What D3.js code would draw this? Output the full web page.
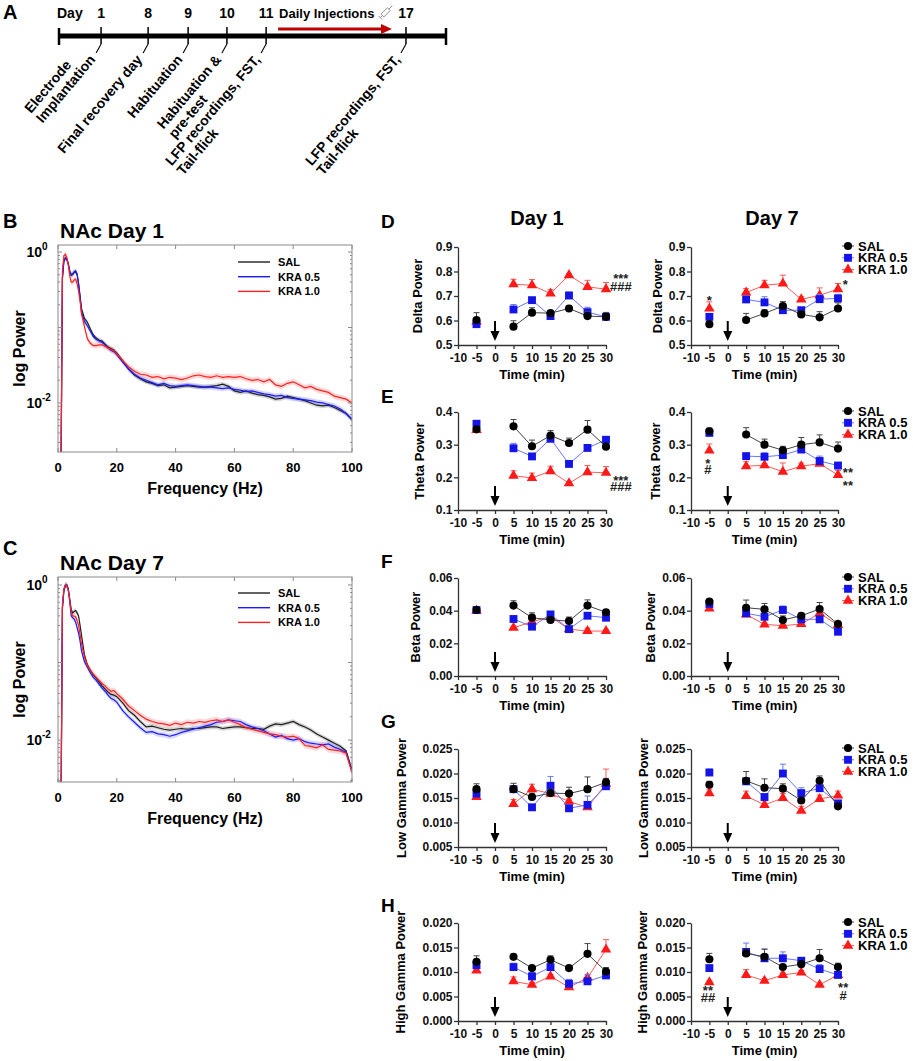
<!DOCTYPE html>
<html><head><meta charset="utf-8">
<script src="https://cdn.jsdelivr.net/npm/d3@7"></script>
<style>
body{margin:0;background:#fff}
svg text{font-family:"Liberation Sans",Arial,Helvetica,sans-serif;font-weight:bold}
</style>
</head><body>
<svg id="c" width="913" height="1061"></svg>
<script>
// ================= DATA =================
// Panel A timeline
const timelineDays = ["1","8","9","10","11","17"];
const timelineSlots = [0, 1.14, 2.11, 3.05, 4, 7.39];
const timelineLabels = [["Electrode","Implantation"],["Final recovery day"],["Habituation"],["Habituation &","pre-test"],["LFP recordings, FST,","Tail-flick"],["LFP recordings, FST,","Tail-flick"]];

// Panels B, C : power spectra (log10 of power)
const freqHz = [1,1.5,2,2.5,3,3.5,4,4.5,5,5.5,6,6.5,7,7.5,8,9,10,11,12,13,14,15,16,17,18,19,20,22,24,26,28,30,32,34,36,38,40,42,44,46,48,50,52,54,56,58,60,62,64,66,68,70,72,74,76,78,80,82,84,86,88,90,92,94,96,98,100];
const groups = ["SAL","KRA 0.5","KRA 1.0"];
const nacDay1_SAL = [-3.0,-0.35,-0.12,-0.08,-0.10,-0.16,-0.26,-0.31,-0.30,-0.27,-0.26,-0.30,-0.42,-0.58,-0.75,-0.88,-0.93,-1.02,-1.10,-1.14,-1.17,-1.18,-1.22,-1.26,-1.28,-1.30,-1.34,-1.44,-1.55,-1.63,-1.68,-1.72,-1.74,-1.77,-1.76,-1.80,-1.79,-1.78,-1.77,-1.78,-1.79,-1.79,-1.78,-1.77,-1.75,-1.78,-1.84,-1.86,-1.84,-1.87,-1.89,-1.90,-1.92,-1.95,-1.94,-1.91,-1.93,-1.95,-1.97,-2.00,-2.03,-2.04,-2.03,-2.06,-2.10,-2.14,-2.22];
const nacDay1_K05 = [-3.0,-0.35,-0.12,-0.08,-0.09,-0.15,-0.25,-0.30,-0.29,-0.26,-0.25,-0.29,-0.42,-0.60,-0.80,-0.92,-0.98,-1.05,-1.12,-1.16,-1.18,-1.20,-1.23,-1.27,-1.30,-1.32,-1.36,-1.46,-1.55,-1.62,-1.67,-1.70,-1.73,-1.76,-1.74,-1.77,-1.78,-1.77,-1.76,-1.77,-1.78,-1.79,-1.79,-1.80,-1.81,-1.80,-1.82,-1.83,-1.85,-1.84,-1.86,-1.88,-1.89,-1.91,-1.90,-1.93,-1.94,-1.95,-1.96,-1.97,-1.99,-2.00,-2.02,-2.04,-2.08,-2.14,-2.22];
const nacDay1_K10 = [-3.0,-0.25,-0.05,-0.03,-0.07,-0.17,-0.32,-0.40,-0.40,-0.37,-0.36,-0.42,-0.52,-0.65,-0.82,-0.99,-1.15,-1.21,-1.24,-1.24,-1.23,-1.23,-1.25,-1.27,-1.29,-1.31,-1.35,-1.44,-1.52,-1.58,-1.62,-1.63,-1.66,-1.65,-1.68,-1.66,-1.67,-1.69,-1.67,-1.64,-1.63,-1.65,-1.66,-1.64,-1.66,-1.65,-1.66,-1.65,-1.68,-1.70,-1.69,-1.72,-1.69,-1.76,-1.78,-1.74,-1.72,-1.76,-1.80,-1.78,-1.82,-1.84,-1.86,-1.91,-1.93,-1.95,-2.00];
const nacDay7_SAL = [-3.0,-0.30,-0.08,-0.01,0.00,-0.05,-0.18,-0.32,-0.36,-0.34,-0.33,-0.36,-0.40,-0.52,-0.65,-0.90,-1.03,-1.10,-1.16,-1.20,-1.25,-1.30,-1.34,-1.38,-1.41,-1.42,-1.44,-1.52,-1.62,-1.68,-1.76,-1.83,-1.82,-1.84,-1.86,-1.87,-1.86,-1.85,-1.86,-1.85,-1.85,-1.84,-1.83,-1.83,-1.85,-1.84,-1.83,-1.83,-1.84,-1.85,-1.85,-1.86,-1.82,-1.79,-1.80,-1.78,-1.76,-1.80,-1.83,-1.87,-1.92,-1.96,-2.00,-2.04,-2.08,-2.14,-2.38];
const nacDay7_K05 = [-3.0,-0.30,-0.06,0.00,0.00,-0.06,-0.22,-0.40,-0.42,-0.44,-0.48,-0.55,-0.62,-0.72,-0.85,-0.99,-1.06,-1.13,-1.19,-1.23,-1.28,-1.33,-1.37,-1.42,-1.46,-1.48,-1.51,-1.62,-1.70,-1.77,-1.84,-1.90,-1.89,-1.92,-1.93,-1.95,-1.93,-1.90,-1.88,-1.86,-1.84,-1.82,-1.80,-1.77,-1.76,-1.74,-1.75,-1.76,-1.80,-1.83,-1.85,-1.88,-1.92,-1.96,-1.94,-1.98,-2.00,-1.98,-2.02,-2.04,-2.05,-2.06,-2.05,-2.09,-2.12,-2.16,-2.40];
const nacDay7_K10 = [-3.0,-0.25,-0.05,0.00,-0.01,-0.07,-0.20,-0.35,-0.40,-0.40,-0.41,-0.46,-0.52,-0.64,-0.76,-0.93,-1.04,-1.10,-1.15,-1.19,-1.23,-1.27,-1.30,-1.34,-1.37,-1.36,-1.40,-1.47,-1.56,-1.62,-1.68,-1.73,-1.76,-1.78,-1.79,-1.81,-1.78,-1.80,-1.77,-1.78,-1.76,-1.77,-1.75,-1.74,-1.76,-1.74,-1.77,-1.80,-1.84,-1.86,-1.88,-1.90,-1.92,-1.93,-1.95,-1.96,-1.95,-1.98,-2.07,-2.08,-2.10,-2.06,-2.12,-2.13,-2.14,-2.17,-2.42];
const spectrumSemLog = [0.03, 0.035, 0.04];

// Panels D-H : band power over time
const timeMin = [-5,5,10,15,20,25,30];
const timeTicks = [-10,-5,0,5,10,15,20,25,30];

const delta1_SAL = [0.602,0.575,0.632,0.630,0.649,0.618,0.615];
const delta1_K05 = [0.585,0.645,0.683,0.618,0.702,0.634,0.615];
const delta1_K10 = [0.595,0.748,0.744,0.710,0.785,0.737,0.728];
const delta1_SAL_sem = [0.030,0.024,0.020,0.010,0.010,0.018,0.018];
const delta1_K05_sem = [0.010,0.020,0.010,0.010,0.014,0.020,0.010];
const delta1_K10_sem = [0.010,0.020,0.023,0.016,0.005,0.027,0.027];
const delta7_SAL = [0.585,0.602,0.629,0.659,0.625,0.613,0.649];
const delta7_K05 = [0.615,0.686,0.674,0.642,0.642,0.687,0.690];
const delta7_K10 = [0.649,0.714,0.744,0.751,0.686,0.703,0.728];
const delta7_SAL_sem = [0.005,0.027,0.015,0.018,0.015,0.023,0.023];
const delta7_K05_sem = [0.012,0.011,0.023,0.011,0.011,0.019,0.017];
const delta7_K10_sem = [0.027,0.016,0.020,0.034,0.011,0.030,0.023];

const theta1_SAL = [0.347,0.356,0.295,0.328,0.305,0.346,0.294];
const theta1_K05 = [0.364,0.289,0.264,0.318,0.241,0.290,0.315];
const theta1_K10 = [0.345,0.205,0.198,0.219,0.182,0.216,0.214];
const theta1_SAL_sem = [0.005,0.021,0.019,0.015,0.015,0.028,0.008];
const theta1_K05_sem = [0.005,0.015,0.005,0.005,0.005,0.005,0.005];
const theta1_K10_sem = [0.005,0.015,0.015,0.015,0.004,0.020,0.019];
const theta7_SAL = [0.341,0.331,0.300,0.283,0.300,0.307,0.288];
const theta7_K05 = [0.336,0.265,0.263,0.268,0.285,0.250,0.236];
const theta7_K10 = [0.282,0.234,0.237,0.217,0.234,0.242,0.207];
const theta7_SAL_sem = [0.010,0.021,0.017,0.012,0.022,0.023,0.020];
const theta7_K05_sem = [0.005,0.005,0.012,0.005,0.005,0.015,0.010];
const theta7_K10_sem = [0.020,0.015,0.005,0.027,0.010,0.006,0.014];

const beta1_SAL = [0.0404,0.0431,0.0357,0.0343,0.0336,0.0431,0.0390];
const beta1_K05 = [0.0404,0.0349,0.0302,0.0377,0.0287,0.0369,0.0357];
const beta1_K10 = [0.0400,0.0295,0.0332,0.0363,0.0287,0.0275,0.0275];
const beta1_SAL_sem = [0.0010,0.0030,0.0030,0.0020,0.0025,0.0035,0.0015];
const beta1_K05_sem = [0.0005,0.0010,0.0010,0.0015,0.0008,0.0008,0.0008];
const beta1_K10_sem = [0.0005,0.0010,0.0020,0.0010,0.0010,0.0018,0.0008];
const beta7_SAL = [0.0455,0.0418,0.0408,0.0343,0.0369,0.0410,0.0318];
const beta7_K05 = [0.0441,0.0384,0.0363,0.0404,0.0347,0.0347,0.0271];
const beta7_K10 = [0.0414,0.0377,0.0316,0.0308,0.0318,0.0384,0.0312];
const beta7_SAL_sem = [0.0010,0.0047,0.0036,0.0025,0.0012,0.0040,0.0018];
const beta7_K05_sem = [0.0008,0.0010,0.0010,0.0025,0.0010,0.0015,0.0008];
const beta7_K10_sem = [0.0008,0.0008,0.0008,0.0008,0.0008,0.0025,0.0008];

const lowG1_SAL = [0.0168,0.0168,0.0152,0.0160,0.0159,0.0168,0.0182];
const lowG1_K05 = [0.0159,0.0168,0.0131,0.0175,0.0129,0.0136,0.0174];
const lowG1_K10 = [0.0152,0.0138,0.0168,0.0159,0.0143,0.0131,0.0179];
const lowG1_SAL_sem = [0.0011,0.0012,0.0008,0.0008,0.0013,0.0025,0.0008];
const lowG1_K05_sem = [0.0006,0.0006,0.0005,0.0019,0.0005,0.0018,0.0005];
const lowG1_K10_sem = [0.0005,0.0009,0.0010,0.0005,0.0005,0.0005,0.0030];
const lowG7_SAL = [0.0177,0.0185,0.0171,0.0169,0.0145,0.0185,0.0133];
const lowG7_K05 = [0.0202,0.0184,0.0152,0.0200,0.0160,0.0170,0.0139];
const lowG7_K10 = [0.0160,0.0154,0.0136,0.0150,0.0124,0.0148,0.0155];
const lowG7_SAL_sem = [0.0007,0.0019,0.0018,0.0010,0.0005,0.0010,0.0004];
const lowG7_K05_sem = [0.0007,0.0005,0.0005,0.0019,0.0011,0.0009,0.0005];
const lowG7_K10_sem = [0.0008,0.0010,0.0008,0.0009,0.0009,0.0008,0.0009];

const highG1_SAL = [0.0121,0.0131,0.0108,0.0125,0.0108,0.0137,0.0101];
const highG1_K05 = [0.0114,0.0110,0.0091,0.0110,0.0076,0.0081,0.0093];
const highG1_K10 = [0.0103,0.0081,0.0074,0.0091,0.0069,0.0088,0.0146];
const highG1_SAL_sem = [0.0012,0.0005,0.0005,0.0008,0.0004,0.0021,0.0008];
const highG1_K05_sem = [0.0008,0.0008,0.0008,0.0006,0.0009,0.0014,0.0005];
const highG1_K10_sem = [0.0005,0.0009,0.0005,0.0004,0.0004,0.0004,0.0020];
const highG7_SAL = [0.0126,0.0138,0.0131,0.0110,0.0116,0.0128,0.0110];
const highG7_K05 = [0.0108,0.0141,0.0128,0.0128,0.0123,0.0106,0.0094];
const highG7_K10 = [0.0079,0.0094,0.0082,0.0094,0.0099,0.0074,0.0094];
const highG7_SAL_sem = [0.0012,0.0008,0.0016,0.0005,0.0005,0.0018,0.0008];
const highG7_K05_sem = [0.0004,0.0018,0.0018,0.0013,0.0006,0.0009,0.0004];
const highG7_K10_sem = [0.0003,0.0011,0.0004,0.0004,0.0004,0.0003,0.0004];

// significance marks: panel index, day side, time, glyph-centre values, texts
const sigMarks = [
  [0,0,34,[0.782,0.741],["***","###"]],
  [0,1,-5,[0.696],["*"]],
  [0,1,32,[0.761],["*"]],
  [1,0,34,[0.201,0.174],["***","###"]],
  [1,1,-5.4,[0.253,0.225],["*","#"]],
  [1,1,32.7,[0.225,0.183],["**","**"]],
  [4,1,-5.4,[0.00687,0.00485],["**","##"]],
  [4,1,31.4,[0.00747,0.00525],["**","#"]]
];

// ================= STYLE =================
const markerColor = ["#000000","#1414e8","#ff1a1a"];
const lineColor = ["#444444","#6677ff","#ff5a5a"];
const specColor = ["#202020","#1a1aff","#ff2020"];
const bandColor = ["rgba(0,0,0,0.16)","rgba(60,60,255,0.20)","rgba(255,60,60,0.20)"];
const symbolTypes = [d3.symbolCircle, d3.symbolSquare, d3.symbolTriangle];
const symbolSizes = [52, 62, 48];

const svg = d3.select("#c");

// ================= PANEL A =================
(function(){
  const tx = d3.scaleLinear().domain([-1.02, 8.36]).range([59, 446]);
  const g = svg.append("g");
  g.append("text").attr("x",3).attr("y",19).attr("font-size",20).text("A");
  g.append("text").attr("x",57).attr("y",18).attr("font-size",14).text("Day");
  g.append("line").attr("x1",tx(-1.02)).attr("x2",tx(8.36)).attr("y1",36).attr("y2",36)
    .attr("stroke","#000").attr("stroke-width",5);
  [-1.02, 8.36].forEach(s => g.append("line").attr("x1",tx(s)).attr("x2",tx(s))
    .attr("y1",28).attr("y2",45).attr("stroke","#000").attr("stroke-width",2.5));
  // injection arrow
  const ax0 = tx(timelineSlots[4]) + 12, ax1 = tx(timelineSlots[5]) - 14;
  g.append("line").attr("x1",ax0).attr("x2",ax1-8).attr("y1",29).attr("y2",29)
    .attr("stroke","#c00000").attr("stroke-width",3);
  g.append("path").attr("d",`M${ax1},29 L${ax1-11},24 L${ax1-11},34 Z`).attr("fill","#c00000");
  g.append("text").attr("x",ax0+1).attr("y",18).attr("font-size",13).text("Daily Injections");
  // syringe icon
  const sy = g.append("g").attr("transform",`translate(${ax1-6},12) rotate(-45)`)
    .attr("stroke","#888").attr("fill","none").attr("stroke-width",0.9);
  sy.append("rect").attr("x",-5).attr("y",-2).attr("width",9).attr("height",4);
  sy.append("line").attr("x1",4).attr("x2",9).attr("y1",0).attr("y2",0);
  sy.append("line").attr("x1",-5).attr("x2",-8).attr("y1",0).attr("y2",0);
  sy.append("line").attr("x1",-8).attr("x2",-8).attr("y1",-2.5).attr("y2",2.5);

  timelineDays.forEach((d,i) => {
    const x = tx(timelineSlots[i]);
    g.append("line").attr("x1",x).attr("x2",x).attr("y1",27).attr("y2",44)
      .attr("stroke","#000").attr("stroke-width",1.5);
    g.append("line").attr("x1",x).attr("x2",x-5).attr("y1",44).attr("y2",53)
      .attr("stroke","#000").attr("stroke-width",1.1);
    g.append("text").attr("x",x).attr("y",18).attr("text-anchor","middle").attr("font-size",14).text(d);
    const lg = g.append("g").attr("transform",`translate(${x-5},60) rotate(-50)`);
    const t = lg.append("text").attr("font-size",14);
    const lines = timelineLabels[i];
    const ts = lines.map(s => t.append("tspan").text(s));
    const lens = ts.map(s => s.node().getComputedTextLength());
    const L = d3.max(lens), k = lens.indexOf(L);
    ts.forEach((s,j) => s.attr("x",-L).attr("y",(j-k)*15));
  });
})();

// ================= PANELS B, C =================
function spectrum(o){
  const x = d3.scaleLinear().domain([0,100]).range([58,352]);
  const y = d3.scaleLog().domain([Math.pow(10,o.yMin), Math.pow(10,o.yMax)]).range([o.bottom, o.top]);
  const g = svg.append("g");
  g.append("text").attr("x",3).attr("y",o.letterY).attr("font-size",20).text(o.letter);
  g.append("text").attr("x",60).attr("y",o.top-7).attr("font-size",21).text(o.title);
  const cid = "clip"+o.letter;
  g.append("clipPath").attr("id",cid).append("rect").attr("x",58).attr("y",o.top)
    .attr("width",294).attr("height",o.bottom-o.top);
  const plot = g.append("g").attr("clip-path",`url(#${cid})`);
  o.series.forEach((s,i) => {
    const pts = freqHz.map((f,j) => [f, s[j]]);
    plot.append("path").datum(pts).attr("fill",bandColor[i])
      .attr("d", d3.area().x(d=>x(d[0]))
        .y0(d=>y(Math.pow(10,d[1]-spectrumSemLog[i])))
        .y1(d=>y(Math.pow(10,d[1]+spectrumSemLog[i]))));
  });
  o.series.forEach((s,i) => {
    const pts = freqHz.map((f,j) => [f, s[j]]);
    plot.append("path").datum(pts).attr("fill","none").attr("stroke",specColor[i]).attr("stroke-width",1.2)
      .attr("d", d3.line().x(d=>x(d[0])).y(d=>y(Math.pow(10,d[1]))));
  });
  // frame
  g.append("rect").attr("x",58).attr("y",o.top).attr("width",294).attr("height",o.bottom-o.top)
    .attr("fill","none").attr("stroke","#8a8a8a").attr("stroke-width",1);
  // ticks
  x.ticks(5).forEach(v => {
    [[o.bottom,o.bottom-4],[o.top,o.top+4]].forEach(p =>
      g.append("line").attr("x1",x(v)).attr("x2",x(v)).attr("y1",p[0]).attr("y2",p[1]).attr("stroke","#8a8a8a"));
    g.append("text").attr("x",x(v)).attr("y",o.bottom+20).attr("text-anchor","middle").attr("font-size",13).text(v);
  });
  for (let e=-3; e<=0; e++) for (let m=1; m<=9; m++) {
    const v = m*Math.pow(10,e);
    if (v < y.domain()[0] || v > y.domain()[1]) continue;
    const len = m===1 ? 4 : 2;
    g.append("line").attr("x1",58).attr("x2",58+len).attr("y1",y(v)).attr("y2",y(v)).attr("stroke","#8a8a8a");
    g.append("line").attr("x1",352).attr("x2",352-len).attr("y1",y(v)).attr("y2",y(v)).attr("stroke","#8a8a8a");
  }
  [[1,"0"],[0.01,"-2"]].forEach(p => {
    const t = g.append("text").attr("x",42).attr("y",y(p[0])+5).attr("font-size",14);
    t.append("tspan").text("10");
    t.append("tspan").attr("dy",-7).attr("font-size",10).text(p[1]);
    t.attr("x", 42 - t.select("tspan").node().getComputedTextLength());
  });
  g.append("text").attr("transform",`translate(25,${(o.top+o.bottom)/2}) rotate(-90)`)
    .attr("text-anchor","middle").attr("font-size",16).text("log Power");
  g.append("text").attr("x",205).attr("y",o.bottom+42).attr("text-anchor","middle").attr("font-size",16).text("Frequency (Hz)");
  // legend
  groups.forEach((name,i) => {
    const ly = o.legendY + i*14.7;
    g.append("line").attr("x1",238).attr("x2",270).attr("y1",ly).attr("y2",ly).attr("stroke",specColor[i]).attr("stroke-width",1.4);
    g.append("text").attr("x",278).attr("y",ly+4).attr("font-size",11).text(name);
  });
}
spectrum({letter:"B", letterY:228, title:"NAc Day 1", top:245, bottom:452, yMin:-2.65, yMax:0.093, legendY:262,
  series:[nacDay1_SAL, nacDay1_K05, nacDay1_K10]});
spectrum({letter:"C", letterY:555, title:"NAc Day 7", top:577, bottom:782, yMin:-2.54, yMax:0.103, legendY:593,
  series:[nacDay7_SAL, nacDay7_K05, nacDay7_K10]});

// ================= PANELS D-H =================
const bandPanels = [
  {letter:"D", letterY:228, label:"Delta Power", top:247, domain:[0.5,0.9], ticks:[0.5,0.6,0.7,0.8,0.9], fmt:".1f", labelX:[422,662],
   days:[[delta1_SAL,delta1_K05,delta1_K10],[delta7_SAL,delta7_K05,delta7_K10]],
   sems:[[delta1_SAL_sem,delta1_K05_sem,delta1_K10_sem],[delta7_SAL_sem,delta7_K05_sem,delta7_K10_sem]]},
  {letter:"E", letterY:403, label:"Theta Power", top:412, domain:[0.1,0.4], ticks:[0.1,0.2,0.3,0.4], fmt:".1f", labelX:[424,660],
   days:[[theta1_SAL,theta1_K05,theta1_K10],[theta7_SAL,theta7_K05,theta7_K10]],
   sems:[[theta1_SAL_sem,theta1_K05_sem,theta1_K10_sem],[theta7_SAL_sem,theta7_K05_sem,theta7_K10_sem]]},
  {letter:"F", letterY:568, label:"Beta Power", top:578, domain:[0,0.06], ticks:[0,0.02,0.04,0.06], fmt:".2f", labelX:[420,655],
   days:[[beta1_SAL,beta1_K05,beta1_K10],[beta7_SAL,beta7_K05,beta7_K10]],
   sems:[[beta1_SAL_sem,beta1_K05_sem,beta1_K10_sem],[beta7_SAL_sem,beta7_K05_sem,beta7_K10_sem]]},
  {letter:"G", letterY:728, label:"Low Gamma Power", top:749, domain:[0.005,0.025], ticks:[0.005,0.01,0.015,0.02,0.025], fmt:".3f", labelX:[406,648],
   days:[[lowG1_SAL,lowG1_K05,lowG1_K10],[lowG7_SAL,lowG7_K05,lowG7_K10]],
   sems:[[lowG1_SAL_sem,lowG1_K05_sem,lowG1_K10_sem],[lowG7_SAL_sem,lowG7_K05_sem,lowG7_K10_sem]]},
  {letter:"H", letterY:912, label:"High Gamma Power", top:923, domain:[0,0.02], ticks:[0,0.005,0.01,0.015,0.02], fmt:".3f", labelX:[405,647],
   days:[[highG1_SAL,highG1_K05,highG1_K10],[highG7_SAL,highG7_K05,highG7_K10]],
   sems:[[highG1_SAL_sem,highG1_K05_sem,highG1_K10_sem],[highG7_SAL_sem,highG7_K05_sem,highG7_K10_sem]]}
];
const plotH = 98;
const xRanges = [[458,606],[691,838]];
const markFont = 13;
const glyphOffset = s => (s[0]==="*" ? 0.58 : 0.36) * markFont;

svg.append("text").attr("x",537).attr("y",225).attr("text-anchor","middle").attr("font-size",20).text("Day 1");
svg.append("text").attr("x",772).attr("y",225).attr("text-anchor","middle").attr("font-size",20).text("Day 7");

bandPanels.forEach((p,pi) => {
  svg.append("text").attr("x",381).attr("y",p.letterY).attr("font-size",19).text(p.letter);
  [0,1].forEach(side => {
    const xr = xRanges[side];
    const x = d3.scaleLinear().domain([-10,30]).range(xr);
    const y = d3.scaleLinear().domain(p.domain).range([p.top+plotH, p.top]);
    const g = svg.append("g");
    const axB = g.append("g").attr("transform",`translate(0,${p.top+plotH})`)
      .call(d3.axisBottom(x).tickValues(timeTicks).tickFormat(d => String(d)).tickSize(4).tickSizeOuter(0).tickPadding(4));
    const axL = g.append("g").attr("transform",`translate(${xr[0]},0)`)
      .call(d3.axisLeft(y).tickValues(p.ticks).tickFormat(d3.format(p.fmt)).tickSize(4).tickSizeOuter(0).tickPadding(1.5));
    [axB,axL].forEach(a => {
      a.selectAll("path,line").attr("stroke","#333").attr("stroke-width",1.3);
      a.selectAll("text").attr("font-size",12).attr("fill","#111")
        .attr("font-family",'"Liberation Sans",Arial,sans-serif').attr("font-weight","bold");
    });
    g.append("text").attr("transform",`translate(${p.labelX[side]},${p.top+plotH/2}) rotate(-90)`)
      .attr("text-anchor","middle").attr("font-size",13).text(p.label);
    g.append("text").attr("x",(xr[0]+xr[1])/2).attr("y",p.top+plotH+34).attr("text-anchor","middle")
      .attr("font-size",13).text("Time (min)");
    // injection arrow at t = 0
    const x0 = x(0), yb = p.top+plotH;
    g.append("line").attr("x1",x0).attr("x2",x0).attr("y1",yb-24).attr("y2",yb-12).attr("stroke","#000").attr("stroke-width",2);
    g.append("path").attr("d",`M${x0-4.5},${yb-14} L${x0+4.5},${yb-14} L${x0},${yb-4} Z`).attr("fill","#000");
    // series (draw KRA 1.0, KRA 0.5, then SAL on top)
    [2,1,0].forEach(i => {
      const vals = p.days[side][i], sems = p.sems[side][i];
      const pts = timeMin.map((t,j) => ({t, v:vals[j], s:sems[j]}));
      g.append("path").datum(pts.filter(d => d.t > 0)).attr("fill","none")
        .attr("stroke",lineColor[i]).attr("stroke-width",1)
        .attr("d", d3.line().x(d=>x(d.t)).y(d=>y(d.v)));
      pts.forEach(d => {
        g.append("line").attr("x1",x(d.t)).attr("x2",x(d.t)).attr("y1",y(d.v)).attr("y2",y(d.v+d.s))
          .attr("stroke",lineColor[i]).attr("stroke-width",1);
        g.append("line").attr("x1",x(d.t)-3).attr("x2",x(d.t)+3).attr("y1",y(d.v+d.s)).attr("y2",y(d.v+d.s))
          .attr("stroke",lineColor[i]).attr("stroke-width",1);
      });
      g.selectAll(null).data(pts).enter().append("path")
        .attr("transform", d => `translate(${x(d.t)},${y(d.v)})`)
        .attr("d", d3.symbol().type(symbolTypes[i]).size(symbolSizes[i])())
        .attr("fill", markerColor[i]);
    });
    // significance marks (stacked lines in one text)
    sigMarks.filter(m => m[0]===pi && m[1]===side).forEach(m => {
      const t = g.append("text").attr("text-anchor","middle").attr("font-size",markFont).attr("fill","#222");
      let prev = null;
      m[4].forEach((s,j) => {
        const base = y(m[3][j]) + glyphOffset(s);
        const ts = t.append("tspan").attr("x",x(m[2])).text(s);
        if (j===0) ts.attr("y",base); else ts.attr("dy",base-prev);
        prev = base;
      });
    });
    // legend on Day 7 side
    if (side === 1) {
      groups.forEach((name,i) => {
        const ly = p.top - 1 + i*11.8;
        g.append("line").attr("x1",842).attr("x2",854).attr("y1",ly).attr("y2",ly).attr("stroke",lineColor[i]).attr("stroke-width",1);
        g.append("path").attr("transform",`translate(848,${ly})`)
          .attr("d", d3.symbol().type(symbolTypes[i]).size(symbolSizes[i])()).attr("fill",markerColor[i]);
        g.append("text").attr("x",858).attr("y",ly+4.5).attr("font-size",13).text(name);
      });
    }
  });
});
</script>
</body></html>
